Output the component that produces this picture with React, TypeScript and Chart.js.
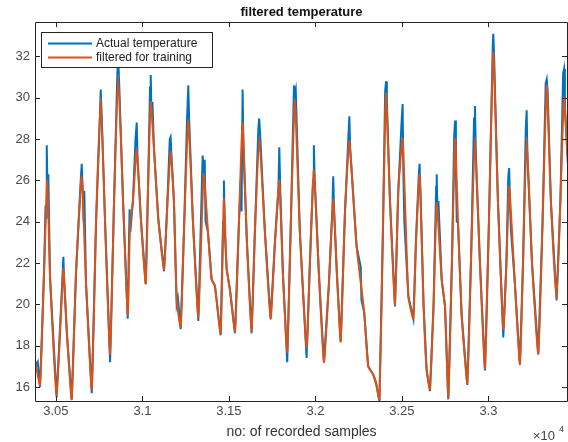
import { useEffect, useRef } from "react";
import { Chart, registerables } from "chart.js";

Chart.register(...registerables);

// ---- data ----
const SAMPLES_FILTERED = [
  30379, 30408, 30431, 30450, 30466, 30504, 30543, 30564, 30591, 30616, 30649, 30674, 30707, 30732, 30759,
  30784, 30813, 30836, 30860, 30888, 30915, 30928, 30945, 30967, 30992, 31019, 31032, 31048, 31067, 31092,
  31125, 31142, 31163, 31182, 31198, 31221, 31240, 31265, 31292, 31323, 31354, 31379, 31400, 31419, 31452,
  31471, 31487, 31506, 31535, 31558, 31579, 31604, 31631, 31650, 31675, 31708, 31741, 31766, 31791, 31812,
  31837, 31858, 31881, 31910, 31949, 31968, 31991, 32020, 32049, 32078, 32103, 32124, 32146, 32171, 32196,
  32238, 32282, 32305, 32334, 32350, 32370, 32390, 32408, 32431, 32460, 32479, 32504, 32537, 32566, 32581,
  32602, 32625, 32643, 32662, 32683, 32701, 32730, 32749, 32768, 32789, 32807, 32824, 32845, 32878, 32899,
  32922, 32951, 32980, 33003, 33028, 33055, 33086, 33104, 33120, 33153, 33182, 33200, 33221, 33252, 33288,
  33313, 33337, 33361, 33394, 33416, 33437, 33460,
];
const TEMP_FILTERED = [
  17.3, 16.1, 21.5, 26.0, 21.3, 15.6, 21.7, 18.5, 15.4, 21.5, 26.2, 21.0, 15.9, 24.0, 30.0,
  24.0, 17.6, 25.0, 31.1, 25.0, 19.5, 23.8, 25.0, 27.5, 24.0, 21.0, 25.5, 29.8, 27.5, 24.1,
  21.7, 24.5, 27.4, 25.0, 20.2, 18.9, 23.5, 28.9, 24.0, 19.4, 26.3, 23.5, 21.2, 20.9, 18.6,
  25.1, 21.7, 20.7, 18.7, 24.0, 28.8, 23.0, 18.7, 23.5, 28.1, 23.5, 19.3, 23.0, 26.0, 21.5,
  17.7, 24.0, 29.9, 23.5, 17.9, 22.0, 26.5, 21.5, 17.2, 21.0, 25.1, 21.5, 18.2, 24.5, 27.9,
  22.8, 19.6, 17.0, 16.6, 16.2, 15.4, 23.5, 30.2, 25.0, 20.0, 25.5, 28.0, 20.4, 19.3, 23.0,
  26.3, 20.0, 16.8, 15.9, 20.0, 24.9, 21.2, 19.9, 15.5, 22.0, 28.0, 24.0, 19.5, 16.2, 22.0,
  28.1, 22.0, 16.9, 24.0, 32.2, 25.0, 18.8, 22.0, 25.7, 21.0, 17.1, 22.0, 28.1, 22.0, 17.6,
  24.0, 30.6, 25.0, 20.2, 25.0, 30.0, 26.8,
];

const SAMPLES_ACTUAL = [
  30379, 30385, 30395, 30408, 30431, 30440, 30444, 30447, 30452, 30456, 30466, 30504, 30536, 30543, 30548,
  30564, 30591, 30616, 30640, 30649, 30655, 30660, 30664, 30674, 30707, 30732, 30752, 30759, 30765, 30784,
  30813, 30836, 30855, 30860, 30866, 30888, 30915, 30922, 30926, 30930, 30945, 30960, 30967, 30972, 30992,
  31019, 31032, 31044, 31048, 31053, 31058, 31067, 31092, 31125, 31142, 31158, 31163, 31168, 31182, 31198,
  31205, 31221, 31240, 31258, 31265, 31270, 31292, 31323, 31348, 31354, 31360, 31365, 31379, 31400, 31419,
  31452, 31466, 31471, 31476, 31487, 31506, 31535, 31558, 31568, 31573, 31579, 31584, 31604, 31631, 31650,
  31670, 31675, 31680, 31708, 31741, 31766, 31786, 31791, 31797, 31812, 31837, 31858, 31876, 31881, 31886,
  31910, 31949, 31968, 31986, 31991, 31996, 32020, 32049, 32078, 32098, 32103, 32108, 32124, 32146, 32171,
  32190, 32196, 32201, 32238, 32262, 32266, 32282, 32305, 32334, 32350, 32370, 32390, 32403, 32408, 32413,
  32431, 32460, 32479, 32499, 32504, 32509, 32514, 32537, 32566, 32581, 32597, 32602, 32607, 32625, 32643,
  32662, 32683, 32698, 32701, 32706, 32711, 32730, 32749, 32768, 32789, 32802, 32807, 32812, 32817, 32824,
  32845, 32878, 32899, 32917, 32922, 32927, 32932, 32951, 32980, 33003, 33025, 33028, 33033, 33055, 33086,
  33104, 33115, 33120, 33126, 33131, 33153, 33182, 33200, 33216, 33221, 33226, 33252, 33288, 33313, 33331,
  33337, 33342, 33361, 33394, 33416, 33432, 33437, 33442, 33460,
];
const TEMP_ACTUAL = [
  17.3, 17.0, 17.2, 16.0, 21.5, 24.8, 24.2, 27.7, 25.0, 26.3, 21.3, 15.5, 21.0, 22.3, 21.0,
  18.5, 15.4, 21.5, 25.5, 26.8, 25.5, 24.0, 25.5, 21.0, 15.7, 24.0, 28.5, 30.4, 29.0, 24.0,
  17.2, 25.0, 31.2, 31.9, 30.6, 25.0, 19.3, 23.0, 24.6, 23.5, 25.0, 28.0, 28.8, 27.0, 24.0,
  21.0, 25.5, 30.5, 31.1, 29.0, 29.8, 27.5, 24.1, 21.6, 24.5, 28.0, 28.1, 27.2, 25.0, 20.0,
  20.3, 18.8, 23.5, 29.0, 30.6, 29.0, 24.0, 19.2, 27.2, 26.6, 27.0, 24.0, 23.5, 21.2, 20.9,
  18.5, 24.0, 26.0, 23.5, 21.7, 20.7, 18.6, 24.0, 26.0, 24.5, 30.4, 27.5, 23.0, 18.6, 23.5,
  28.5, 29.0, 28.3, 23.5, 19.3, 23.0, 25.5, 27.6, 25.5, 21.5, 17.2, 24.0, 30.6, 30.2, 30.4,
  23.5, 17.4, 22.0, 26.0, 27.7, 26.0, 21.5, 17.2, 21.0, 24.6, 26.2, 24.5, 21.5, 18.2, 24.5,
  28.0, 29.1, 27.5, 22.8, 21.8, 20.2, 19.6, 17.0, 16.6, 16.2, 15.3, 23.5, 30.3, 30.8, 29.8,
  25.0, 19.9, 25.5, 29.0, 29.7, 26.0, 24.0, 20.4, 19.3, 23.0, 26.2, 26.8, 25.5, 20.0, 16.8,
  15.8, 20.0, 25.7, 26.3, 24.2, 25.0, 21.2, 19.9, 15.4, 22.0, 28.1, 28.9, 26.5, 24.0, 24.0,
  19.5, 16.1, 22.0, 29.0, 29.6, 27.5, 26.0, 22.0, 16.8, 24.0, 32.5, 33.1, 32.0, 25.0, 18.4,
  22.0, 26.2, 26.6, 24.5, 23.5, 21.0, 17.1, 22.0, 28.5, 29.4, 27.0, 22.0, 17.6, 24.0, 30.7,
  30.9, 30.4, 25.0, 20.2, 25.0, 31.2, 31.4, 29.5, 26.8,
];

const X_TICKS = [30500, 31000, 31500, 32000, 32500, 33000];
const Y_TICKS = [16, 18, 20, 22, 24, 26, 28, 30, 32];
const X_MIN = 30379;
const X_MAX = 33460;
const Y_MIN = 15.32;
const Y_MAX = 33.67;

const TITLE = "filtered temperature";
const X_LABEL = "no: of recorded samples";
const LEGEND_LABELS = ["Actual temperature", "filtered for training"];

const BLUE = "#0072BD";
const ORANGE = "#D95319";
const FONT = "'Liberation Sans', Arial, Helvetica, sans-serif";
const AXIS_COLOR = "#262626";
const TICK_TEXT = "#4a4a4a";

const matlabDecor = {
  id: "matlabDecor",
  afterDraw(chart: any) {
    const { ctx, chartArea } = chart;
    const { left, right, top, bottom } = chartArea;
    const xs = chart.scales.x;
    const ys = chart.scales.y;
    ctx.save();
    // box
    ctx.strokeStyle = AXIS_COLOR;
    ctx.lineWidth = 1;
    ctx.beginPath();
    ctx.rect(Math.round(left) + 0.5, Math.round(top) + 0.5, Math.round(right - left) - 1, Math.round(bottom - top));
    ctx.stroke();
    // inward ticks
    ctx.beginPath();
    X_TICKS.forEach((v) => {
      const px = Math.round(xs.getPixelForValue(v)) + 0.5;
      ctx.moveTo(px, bottom);
      ctx.lineTo(px, bottom - 5);
      ctx.moveTo(px, top);
      ctx.lineTo(px, top + 5);
    });
    Y_TICKS.forEach((v) => {
      const py = Math.round(ys.getPixelForValue(v)) + 0.5;
      ctx.moveTo(left, py);
      ctx.lineTo(left + 5, py);
      ctx.moveTo(right - 1, py);
      ctx.lineTo(right - 6, py);
    });
    ctx.stroke();

    // title
    ctx.fillStyle = "#111";
    ctx.font = `bold 13px ${FONT}`;
    ctx.textAlign = "center";
    ctx.textBaseline = "middle";
    ctx.fillText(TITLE, (left + right) / 2, 12);

    // x label
    ctx.fillStyle = "#333";
    ctx.font = `14px ${FONT}`;
    ctx.fillText(X_LABEL, (left + right) / 2, 432);

    // exponent
    ctx.textAlign = "left";
    ctx.font = `13px ${FONT}`;
    ctx.fillStyle = "#444";
    ctx.fillText("\u00d710", 533, 436);
    ctx.font = `9px ${FONT}`;
    ctx.fillText("4", 559, 430);

    // legend
    const lx = 41, ly = 32, lw = 171, lh = 35;
    ctx.fillStyle = "#ffffff";
    ctx.fillRect(lx, ly, lw, lh);
    ctx.strokeStyle = AXIS_COLOR;
    ctx.lineWidth = 1;
    ctx.strokeRect(lx + 0.5, ly + 0.5, lw, lh);
    const rows = [
      { c: BLUE, t: LEGEND_LABELS[0], y: 43.5 },
      { c: ORANGE, t: LEGEND_LABELS[1], y: 57.5 },
    ];
    ctx.font = `12px ${FONT}`;
    ctx.textBaseline = "middle";
    rows.forEach((r) => {
      ctx.strokeStyle = r.c;
      ctx.lineWidth = 2;
      ctx.beginPath();
      ctx.moveTo(48, r.y);
      ctx.lineTo(92, r.y);
      ctx.stroke();
      ctx.fillStyle = "#222";
      ctx.fillText(r.t, 96, r.y);
    });
    ctx.restore();
  },
};

export default function App() {
  const ref = useRef<HTMLCanvasElement | null>(null);
  useEffect(() => {
    if (!ref.current) return;
    const actual = SAMPLES_ACTUAL.map((x, i) => ({ x, y: TEMP_ACTUAL[i] }));
    const filtered = SAMPLES_FILTERED.map((x, i) => ({ x, y: TEMP_FILTERED[i] }));
    const chart = new Chart(ref.current, {
      type: "line",
      data: {
        datasets: [
          {
            label: LEGEND_LABELS[0],
            data: actual,
            borderColor: BLUE,
            borderWidth: 2,
            pointRadius: 0,
            tension: 0,
            order: 1,
          },
          {
            label: LEGEND_LABELS[1],
            data: filtered,
            borderColor: ORANGE,
            borderWidth: 2,
            pointRadius: 0,
            tension: 0.15,
            order: 0,
          },
        ],
      },
      plugins: [matlabDecor],
      options: {
        responsive: false,
        animation: false,
        layout: { padding: { top: 22, right: 0, left: 0, bottom: 0 } },
        plugins: {
          legend: { display: false },
          title: { display: false },
          tooltip: { enabled: false },
        },
        scales: {
          x: {
            type: "linear",
            min: X_MIN,
            max: X_MAX,
            afterBuildTicks: (s: any) => {
              s.ticks = X_TICKS.map((v) => ({ value: v }));
            },
            afterFit: (s: any) => {
              s.height = 41;
            },
            grid: { display: false, drawTicks: false },
            border: { display: false },
            ticks: {
              padding: 3,
              maxRotation: 0,
              autoSkip: false,
              color: TICK_TEXT,
              font: { family: FONT, size: 13 },
              callback: (v: any) => String(Number(v) / 10000),
            },
          },
          y: {
            type: "linear",
            min: Y_MIN,
            max: Y_MAX,
            afterBuildTicks: (s: any) => {
              s.ticks = Y_TICKS.map((v) => ({ value: v }));
            },
            afterFit: (s: any) => {
              s.width = 35;
            },
            grid: { display: false, drawTicks: false },
            border: { display: false },
            ticks: {
              padding: 5,
              autoSkip: false,
              color: TICK_TEXT,
              font: { family: FONT, size: 13 },
              callback: (v: any) => String(v),
            },
          },
        },
      },
    });
    return () => chart.destroy();
  }, []);
  return (
    <div style={{ position: "fixed", left: 0, top: 0, width: 568, height: 442, background: "#fff" }}>
      <canvas ref={ref} width={568} height={442} style={{ display: "block" }} />
    </div>
  );
}
